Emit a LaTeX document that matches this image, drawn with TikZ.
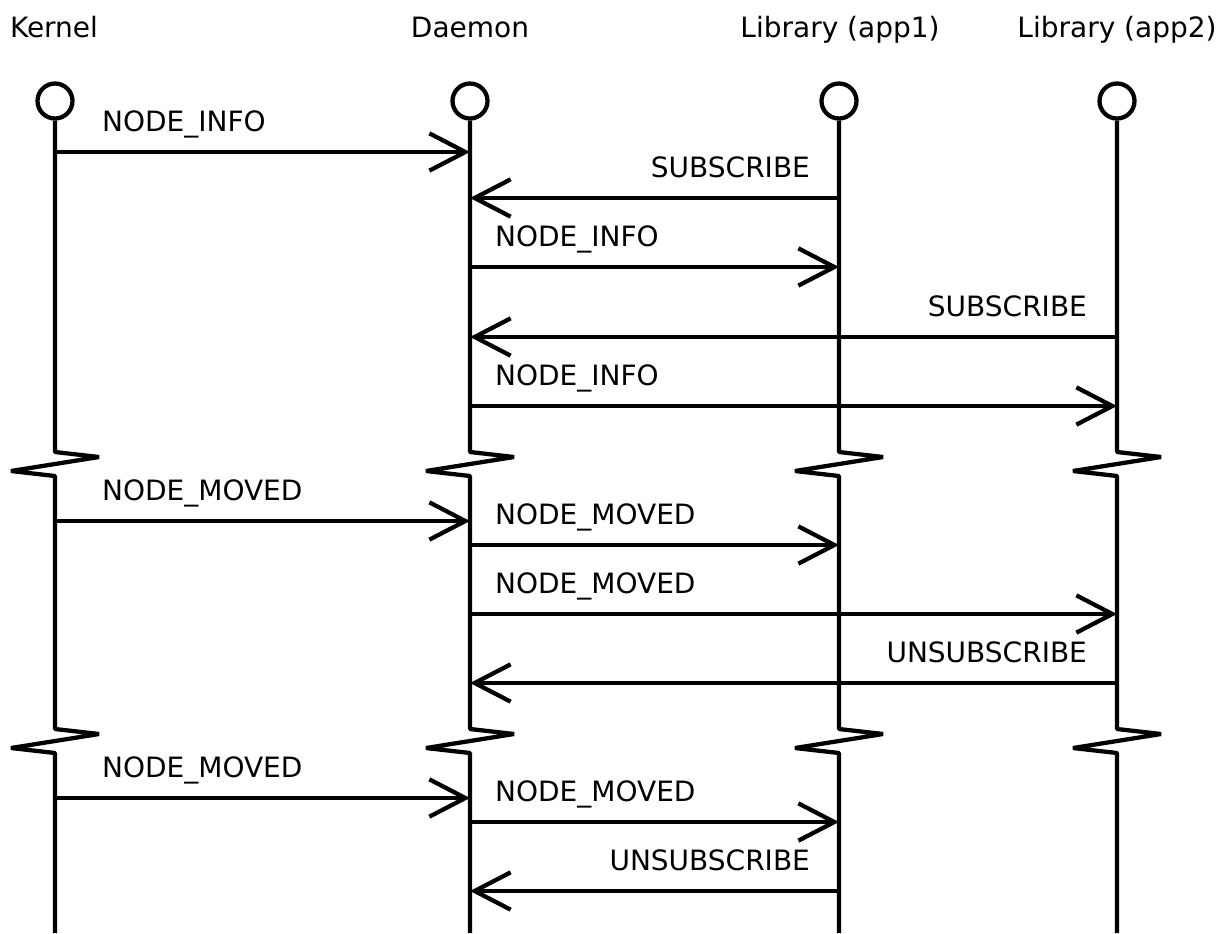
\documentclass[tikz,border=0pt]{standalone}
\usepackage{fontspec}
\setmainfont{DejaVu Sans}
\usetikzlibrary{arrows.meta}
\begin{document}
\begin{tikzpicture}[x=0.75pt,y=-0.75pt,line width=3.2pt,
  txt/.style={font=\fontsize{21}{24}\selectfont,inner sep=0pt},
  actor/.style={circle,draw,line width=3.2pt,minimum size=26.25pt,inner sep=0pt},
  msg/.style={-{Straight Barb[length=27pt,width=28pt]}},
  life/.style={line join=bevel}]
\useasboundingbox (0,0) rectangle (1220,933);
% participants
\node[txt,anchor=base] (hK) at (54,37) {Kernel};
\node[txt,anchor=base] (hD) at (470,37) {Daemon};
\node[txt,anchor=base] (hA) at (840,37) {Library (app1)};
\node[txt,anchor=base] (hB) at (1117,37) {Library (app2)};
\node[actor] (K) at (55,101) {};
\node[actor] (D) at (470,101) {};
\node[actor] (A) at (839,101) {};
\node[actor] (B) at (1117,101) {};
% lifelines with breaks
\foreach \n/\x in {K/55,D/470,A/839,B/1117}{
  \coordinate (\n end) at (\x,933);
  \draw[life] (\n.south) -- (\x,452) -- (\x+44,457) -- (\x-44,471) -- (\x,476)
     -- (\x,729) -- (\x+44,734) -- (\x-44,748) -- (\x,753) -- (\n end);
}
% message endpoints
\coordinate (m1s) at (55,152);  \coordinate (m1e) at (470,152);
\coordinate (m2s) at (839,198); \coordinate (m2e) at (470,198);
\coordinate (m3s) at (470,267); \coordinate (m3e) at (839,267);
\coordinate (m4s) at (1117,337);\coordinate (m4e) at (470,337);
\coordinate (m5s) at (470,406); \coordinate (m5e) at (1117,406);
\coordinate (m6s) at (55,521);  \coordinate (m6e) at (470,521);
\coordinate (m7s) at (470,545); \coordinate (m7e) at (839,545);
\coordinate (m8s) at (470,614); \coordinate (m8e) at (1117,614);
\coordinate (m9s) at (1117,683);\coordinate (m9e) at (470,683);
\coordinate (m10s) at (55,798); \coordinate (m10e) at (470,798);
\coordinate (m11s) at (470,822);\coordinate (m11e) at (839,822);
\coordinate (m12s) at (839,891);\coordinate (m12e) at (470,891);
\foreach \i in {1,...,12}{\draw[msg] (m\i s) -- (m\i e);}
% labels
\node[txt,anchor=base west] (l1) at (100,131) {NODE\_INFO};
\node[txt,anchor=base east] (l2) at (812,177) {SUBSCRIBE};
\node[txt,anchor=base west] (l3) at (493,246) {NODE\_INFO};
\node[txt,anchor=base east] (l4) at (1089,316) {SUBSCRIBE};
\node[txt,anchor=base west] (l5) at (493,385) {NODE\_INFO};
\node[txt,anchor=base west] (l6) at (100,500) {NODE\_MOVED};
\node[txt,anchor=base west] (l7) at (493,524) {NODE\_MOVED};
\node[txt,anchor=base west] (l8) at (493,593) {NODE\_MOVED};
\node[txt,anchor=base east] (l9) at (1089,662) {UNSUBSCRIBE};
\node[txt,anchor=base west] (l10) at (100,777) {NODE\_MOVED};
\node[txt,anchor=base west] (l11) at (493,801) {NODE\_MOVED};
\node[txt,anchor=base east] (l12) at (812,870) {UNSUBSCRIBE};
\end{tikzpicture}
\end{document}
